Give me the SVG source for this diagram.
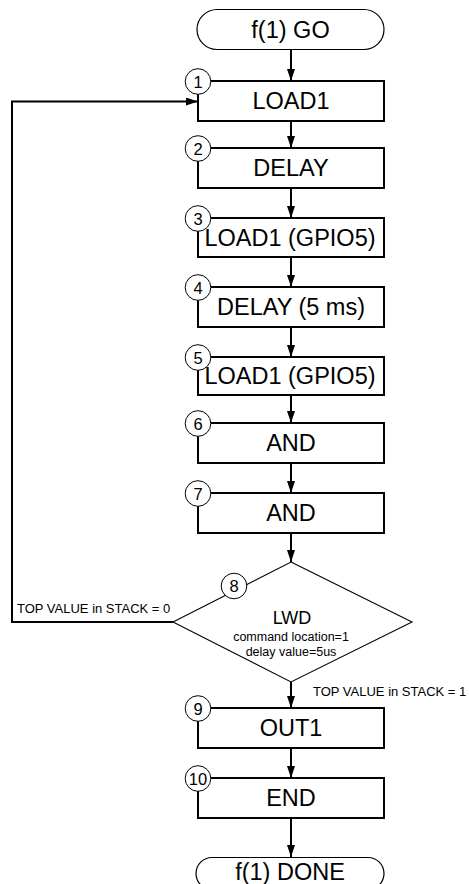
<svg xmlns="http://www.w3.org/2000/svg" width="469" height="884" viewBox="0 0 469 884">
<style>
.box{fill:#fff;stroke:#000;stroke-width:2}
.term{fill:#fff;stroke:#000;stroke-width:1.2}
.dia{fill:#fff;stroke:#000;stroke-width:1.1}
.num{fill:#fff;stroke:#000;stroke-width:1}
.t{font-family:"Liberation Sans",Arial,sans-serif;font-size:23.5px;text-anchor:middle;fill:#000}
.n{font-family:"Liberation Sans",Arial,sans-serif;font-size:16.5px;text-anchor:middle;fill:#000}
.s{font-family:"Liberation Sans",Arial,sans-serif;font-size:13px;fill:#000}
.d{font-family:"Liberation Sans",Arial,sans-serif;font-size:12.5px;text-anchor:middle;fill:#000}
.c{stroke:#000;stroke-width:2;fill:none;marker-end:url(#ah)}
</style>
<defs>
<marker id="ah" markerUnits="userSpaceOnUse" markerWidth="13" markerHeight="9" refX="12" refY="4" orient="auto">
<path d="M0,0 L12,4 L0,8 z" fill="#000"/>
</marker>
</defs>
<g id="connectors">
<line class="c" x1="291" y1="49" x2="291" y2="81"/>
<line class="c" x1="291" y1="121" x2="291" y2="148"/>
<line class="c" x1="291" y1="188" x2="291" y2="218"/>
<line class="c" x1="291" y1="257" x2="291" y2="287"/>
<line class="c" x1="291" y1="327" x2="291" y2="357"/>
<line class="c" x1="291" y1="395" x2="291" y2="423"/>
<line class="c" x1="291" y1="463" x2="291" y2="493"/>
<line class="c" x1="291" y1="533" x2="291" y2="562"/>
<line class="c" x1="291" y1="682" x2="291" y2="708"/>
<line class="c" x1="291" y1="748" x2="291" y2="778"/>
<line class="c" x1="291" y1="818" x2="291" y2="857"/>
<polyline class="c" points="173,622 12,622 12,101.5 198,101.5"/>
<text class="s" x="17" y="613">TOP VALUE in STACK = 0</text>
<text class="s" x="313" y="696">TOP VALUE in STACK = 1</text>
</g>
<g id="start">
<rect class="term" x="197" y="9.5" width="187" height="40" rx="20"/>
<text class="t" x="290.5" y="37.5">f(1) GO</text>
</g>
<g id="n1">
<rect class="box" x="198" y="81" width="186" height="40"/>
<text class="t" x="291" y="109">LOAD1</text>
<circle class="num" cx="198" cy="81.5" r="12.8"/>
<text class="n" x="198" y="87.5">1</text>
</g>
<g id="n2">
<rect class="box" x="198" y="148" width="186" height="40"/>
<text class="t" x="291" y="176">DELAY</text>
<circle class="num" cx="198" cy="148.5" r="12.8"/>
<text class="n" x="198" y="154.5">2</text>
</g>
<g id="n3">
<rect class="box" x="198" y="218" width="186" height="39"/>
<text class="t" x="290" y="246">LOAD1 (GPIO5)</text>
<circle class="num" cx="198" cy="218.5" r="12.8"/>
<text class="n" x="198" y="224.5">3</text>
</g>
<g id="n4">
<rect class="box" x="198" y="287" width="186" height="40"/>
<text class="t" x="291" y="315">DELAY (5 ms)</text>
<circle class="num" cx="198" cy="287.5" r="12.8"/>
<text class="n" x="198" y="293.5">4</text>
</g>
<g id="n5">
<rect class="box" x="198" y="357" width="186" height="38"/>
<text class="t" x="290" y="384">LOAD1 (GPIO5)</text>
<circle class="num" cx="198" cy="357.5" r="12.8"/>
<text class="n" x="198" y="363.5">5</text>
</g>
<g id="n6">
<rect class="box" x="198" y="423" width="186" height="40"/>
<text class="t" x="291" y="451">AND</text>
<circle class="num" cx="198" cy="423.5" r="12.8"/>
<text class="n" x="198" y="429.5">6</text>
</g>
<g id="n7">
<rect class="box" x="198" y="493" width="186" height="40"/>
<text class="t" x="291" y="521">AND</text>
<circle class="num" cx="198" cy="493.5" r="12.8"/>
<text class="n" x="198" y="499.5">7</text>
</g>
<g id="n8">
<polygon class="dia" points="291,562 412,622 291,682 173,622"/>
<text class="t" x="292" y="624" style="font-size:18px">LWD</text>
<text class="d" x="291" y="641">command location=1</text>
<text class="d" x="291" y="655.5">delay value=5us</text>
<circle class="num" cx="234" cy="586" r="12.8"/>
<text class="n" x="234" y="592">8</text>
</g>
<g id="n9">
<rect class="box" x="198" y="708" width="186" height="40"/>
<text class="t" x="291" y="736">OUT1</text>
<circle class="num" cx="198" cy="708.5" r="12.8"/>
<text class="n" x="198" y="714.5">9</text>
</g>
<g id="n10">
<rect class="box" x="198" y="778" width="186" height="40"/>
<text class="t" x="291" y="806">END</text>
<circle class="num" cx="198" cy="778.5" r="12.8"/>
<text class="n" x="198" y="784.5">10</text>
</g>
<g id="done">
<rect class="term" x="196" y="857.5" width="188" height="32" rx="16"/>
<text class="t" x="290" y="880">f(1) DONE</text>
</g>
</svg>
